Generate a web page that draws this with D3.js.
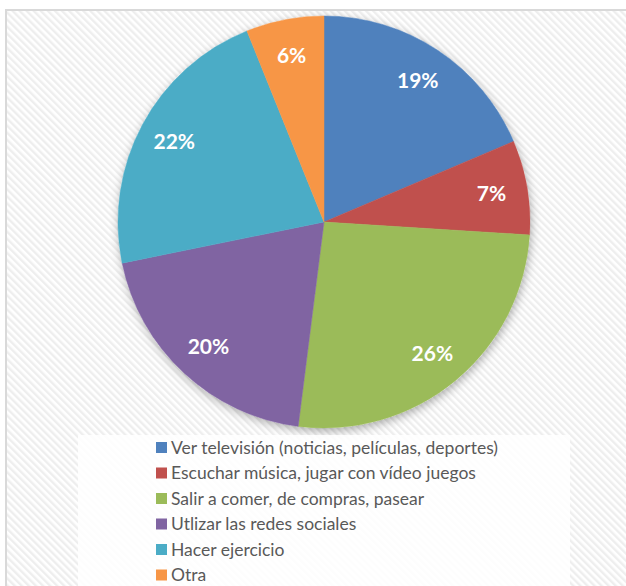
<!DOCTYPE html>
<html>
<head>
<meta charset="utf-8">
<script src="https://cdn.jsdelivr.net/npm/d3@7"></script>
<style>
  html, body { margin: 0; padding: 0; background: #fff; }
  svg { display: block; }
</style>
</head>
<body>
<svg id="chart" width="626" height="586"></svg>
<script>
// Share of free-time activities (percent)
const categories = [
  "Ver televisión (noticias, películas, deportes)",
  "Escuchar música, jugar con vídeo juegos",
  "Salir a comer, de compras, pasear",
  "Utlizar las redes sociales",
  "Hacer ejercicio",
  "Otra"
];
const values = [18.6, 7.4, 26.0, 19.8, 22.1, 6.1];
const colors = ["#4f81bd", "#c0504d", "#9bbb59", "#8064a2", "#4bacc6", "#f79646"];

const W = 626, H = 586;
const cx = 324, cy = 222, R = 206, labelR = 170;

const svg = d3.select("#chart");
const defs = svg.append("defs");

// diagonal hatch used as the chart-area background
const pat = defs.append("pattern")
  .attr("id", "hatch")
  .attr("patternUnits", "userSpaceOnUse")
  .attr("width", 5).attr("height", 5)
  .attr("patternTransform", "rotate(-45)");
pat.append("rect").attr("width", 5).attr("height", 5).attr("fill", "#ffffff");
pat.append("rect").attr("width", 2.4).attr("height", 5).attr("fill", "#eeeeee");

// soft outer shadow under the pie
const f = defs.append("filter").attr("id", "shadow")
  .attr("x", "-20%").attr("y", "-20%").attr("width", "140%").attr("height", "140%");
f.append("feDropShadow")
  .attr("dx", 1).attr("dy", 3).attr("stdDeviation", 5)
  .attr("flood-color", "#000").attr("flood-opacity", 0.32);

// chart area
svg.append("rect")
  .attr("x", 6).attr("y", 10).attr("width", W + 20).attr("height", H + 20)
  .attr("fill", "url(#hatch)")
  .attr("stroke", "#d9d9d9").attr("stroke-width", 2);

const data = categories.map((c, i) => ({ cat: c, value: values[i], color: colors[i] }));

const pie = d3.pie().sort(null).value(d => d.value);
const arcs = pie(data);
const arc = d3.arc().innerRadius(0).outerRadius(R);
const labelArc = d3.arc().innerRadius(labelR).outerRadius(labelR);

const g = svg.append("g").attr("transform", `translate(${cx},${cy})`);

// shadow disc drawn once behind the slices
g.append("circle").attr("r", R).attr("fill", "#ffffff").attr("filter", "url(#shadow)");

g.selectAll("path.slice")
  .data(arcs)
  .join("path")
  .attr("class", "slice")
  .attr("d", arc)
  .attr("fill", d => d.data.color)
  .attr("stroke", d => d.data.color)
  .attr("stroke-width", 0.5);

const total = d3.sum(values);
g.selectAll("text.pct")
  .data(arcs)
  .join("text")
  .attr("class", "pct")
  .attr("transform", d => `translate(${labelArc.centroid(d)})`)
  .attr("text-anchor", "middle")
  .attr("dy", "0.36em")
  .attr("fill", "#ffffff")
  .attr("font-family", "Lato, 'Open Sans', sans-serif")
  .attr("font-weight", "bold")
  .attr("font-size", 21)
  .text(d => Math.round(d.data.value / total * 100) + "%");

// legend
const legend = svg.append("g");
legend.append("rect")
  .attr("x", 78).attr("y", 435).attr("width", 492).attr("height", 160)
  .attr("fill", "#ffffff").attr("fill-opacity", 0.85);

const rowY = d3.scalePoint().domain(categories).range([447.5, 575]);
const rows = legend.selectAll("g.row")
  .data(data)
  .join("g")
  .attr("class", "row")
  .attr("transform", d => `translate(156,${rowY(d.cat)})`);
rows.append("rect")
  .attr("x", 0).attr("y", -5.5).attr("width", 11).attr("height", 11)
  .attr("fill", d => d.color);
rows.append("text")
  .attr("x", 15).attr("y", 6.3)
  .attr("fill", "#595959")
  .attr("font-family", "Lato, 'Open Sans', sans-serif")
  .attr("font-size", 17.5)
  .text(d => d.cat);
</script>
</body>
</html>
